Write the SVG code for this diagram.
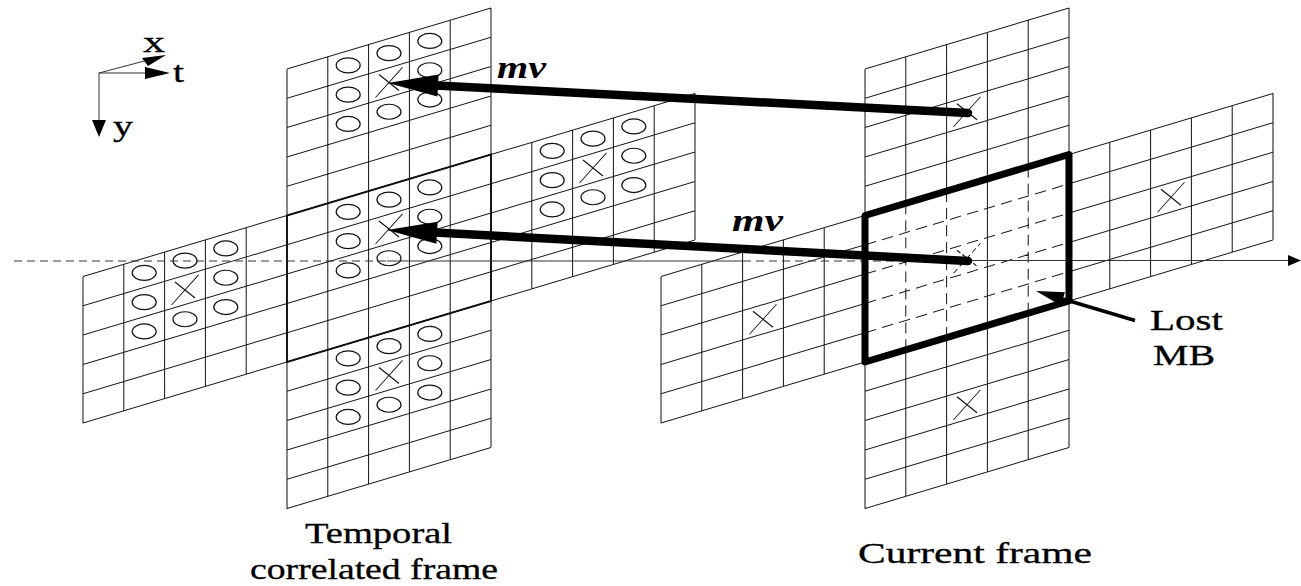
<svg xmlns="http://www.w3.org/2000/svg" xmlns:xlink="http://www.w3.org/1999/xlink" width="1301" height="586" viewBox="0 0 1301 586">
<style>
.grid{fill:none;stroke:#111;stroke-width:1}
.dgrid{fill:none;stroke:#111;stroke-width:1;stroke-dasharray:11 6}
.ring{fill:none;stroke:#111;stroke-width:1.2}
.cross{fill:none;stroke:#111;stroke-width:1}
.dcross{fill:none;stroke:#111;stroke-width:1;stroke-dasharray:5 3}
.rim{fill:none;stroke:#111;stroke-width:1.8}
.axis{fill:none;stroke:#333;stroke-width:1}
.axisd{fill:none;stroke:#333;stroke-width:1;stroke-dasharray:8 5}
.heavy{fill:none;stroke:#000;stroke-width:8.5;stroke-linecap:round}
.lost{fill:none;stroke:#000;stroke-width:7;stroke-linejoin:round}
.head{fill:#000;stroke:none}
.lbl{font-family:"Liberation Serif","Times New Roman",serif;font-size:30px;fill:#000;stroke:#000;stroke-width:0.3}
.mv{font-family:"Liberation Serif","Times New Roman",serif;font-size:31px;font-weight:bold;font-style:italic;fill:#000}
</style>
<defs>
  <!-- 5 x 5 macroblock grid in unskewed local coordinates -->
  <path id="grid" d="M0 0H204M0 29.3H204M0 58.6H204M0 87.9H204M0 117.2H204M0 146.5H204M0 0V146.5M40.8 0V146.5M81.6 0V146.5M122.4 0V146.5M163.2 0V146.5M204 0V146.5"/>
  <!-- marker of the block position -->
  <path id="cross" d="M-10 -11L10 11M-13.5 11L13.5 -11"/>
  <!-- eight neighbour candidates around the centre cell (screen aligned) -->
  <g id="rings">
    <ellipse cx="61.2" cy="-3.65" rx="12" ry="7.5"/>
    <ellipse cx="61.2" cy="25.65" rx="12" ry="7.5"/>
    <ellipse cx="61.2" cy="54.95" rx="12" ry="7.5"/>
    <ellipse cx="102" cy="-15.85" rx="12" ry="7.5"/>
    <ellipse cx="102" cy="42.75" rx="12" ry="7.5"/>
    <ellipse cx="142.8" cy="-28.05" rx="12" ry="7.5"/>
    <ellipse cx="142.8" cy="1.25" rx="12" ry="7.5"/>
    <ellipse cx="142.8" cy="30.55" rx="12" ry="7.5"/>
  </g>
</defs>

<!-- coordinate axes legend -->
<g id="legend">
  <path class="axis" d="M99 73H150M99 73L150 59.5M99 73V122" stroke="#000"/>
  <polygon class="head" points="145,67 170,73 145,79"/>
  <polygon class="head" points="142,58 166,55 148,66"/>
  <polygon class="head" points="92,120 99,137 106,120"/>
  <text class="lbl" x="143" y="52" textLength="22" lengthAdjust="spacingAndGlyphs">x</text>
  <text class="lbl" x="173" y="82" textLength="11" lengthAdjust="spacingAndGlyphs">t</text>
  <text class="lbl" x="113" y="136" textLength="20" lengthAdjust="spacingAndGlyphs">y</text>
</g>

<!-- temporal correlated frame -->
<g id="temporal-frame">
  <g id="t-top">
    <g transform="matrix(1 -0.299 0 1 287 69)"><use xlink:href="#grid" class="grid"/><use xlink:href="#cross" class="cross" x="102" y="43.95"/></g>
    <use xlink:href="#rings" class="ring" x="287" y="69"/>
  </g>
  <g id="t-center">
    <g transform="matrix(1 -0.299 0 1 287 215.5)"><use xlink:href="#grid" class="grid"/><use xlink:href="#cross" class="cross" x="102" y="43.95"/><rect class="rim" x="0" y="0" width="204" height="146.5"/></g>
    <use xlink:href="#rings" class="ring" x="287" y="215.5"/>
  </g>
  <g id="t-bottom">
    <g transform="matrix(1 -0.299 0 1 287 362)"><use xlink:href="#grid" class="grid"/><use xlink:href="#cross" class="cross" x="102" y="43.95"/></g>
    <use xlink:href="#rings" class="ring" x="287" y="362"/>
  </g>
  <g id="t-left">
    <g transform="matrix(1 -0.299 0 1 83 276.5)"><use xlink:href="#grid" class="grid"/><use xlink:href="#cross" class="cross" x="102" y="43.95"/></g>
    <use xlink:href="#rings" class="ring" x="83" y="276.5"/>
  </g>
  <g id="t-right">
    <g transform="matrix(1 -0.299 0 1 491 154.5)"><use xlink:href="#grid" class="grid"/><use xlink:href="#cross" class="cross" x="102" y="43.95"/></g>
    <use xlink:href="#rings" class="ring" x="491" y="154.5"/>
  </g>
</g>

<!-- current frame -->
<g id="current-frame">
  <g id="c-top" transform="matrix(1 -0.299 0 1 865 69)"><use xlink:href="#grid" class="grid"/><use xlink:href="#cross" class="cross" x="102" y="73.25"/></g>
  <g id="c-bottom" transform="matrix(1 -0.299 0 1 865 362)"><use xlink:href="#grid" class="grid"/><use xlink:href="#cross" class="cross" x="102" y="73.25"/></g>
  <g id="c-left" transform="matrix(1 -0.299 0 1 661 276.5)"><use xlink:href="#grid" class="grid"/><use xlink:href="#cross" class="cross" x="102" y="73.25"/></g>
  <g id="c-right" transform="matrix(1 -0.299 0 1 1069 154.5)"><use xlink:href="#grid" class="grid"/><use xlink:href="#cross" class="cross" x="102" y="73.25"/></g>
  <g id="lost-mb" transform="matrix(1 -0.299 0 1 865 215.5)">
    <path class="dgrid" d="M0 29.3H204M0 58.6H204M0 87.9H204M0 117.2H204M40.8 0V146.5M81.6 0V146.5M163.2 0V146.5"/>
    <path class="grid" d="M122.4 0V146.5"/>
    <use xlink:href="#cross" class="dcross" x="102" y="73.25"/>
  </g>
</g>

<!-- time axis and motion vectors -->
<g id="connectors">
  <path class="axisd" d="M14 261H387"/>
  <path class="axis" d="M387 261H743"/>
  <path class="axisd" d="M743 261H968"/>
  <path class="axis" d="M968 260.5H1292"/>
  <polygon class="head" points="1288,255 1301,260.5 1288,266"/>

  <g id="mv-top">
    <path class="heavy" d="M436 85.5L968 113"/>
    <polygon class="head" points="388,83 438.6,74.6 437.4,96.6"/>
  </g>
  <g id="mv-center">
    <path class="heavy" d="M435 232.5L968 261"/>
    <polygon class="head" points="387,230 437.6,221.7 436.4,243.7"/>
  </g>

  <polygon class="lost" points="865,215.5 1069,154.5 1069,301 865,362"/>

  <g id="lost-pointer">
    <path d="M1062 298.7L1135 320.5" fill="none" stroke="#000" stroke-width="3.5"/>
    <polygon class="head" points="1036,291 1064.9,292.2 1060.9,305.6"/>
  </g>
</g>

<!-- labels -->
<g id="labels">
  <text class="mv" x="497" y="78" textLength="49" lengthAdjust="spacingAndGlyphs">mv</text>
  <text class="mv" x="732" y="231" textLength="51" lengthAdjust="spacingAndGlyphs">mv</text>
  <text class="lbl" x="1150" y="330" textLength="73" lengthAdjust="spacingAndGlyphs">Lost</text>
  <text class="lbl" x="1153" y="365" textLength="62" lengthAdjust="spacingAndGlyphs">MB</text>
  <text class="lbl" x="305" y="543" textLength="147" lengthAdjust="spacingAndGlyphs">Temporal</text>
  <text class="lbl" x="250" y="579" textLength="248" lengthAdjust="spacingAndGlyphs">correlated frame</text>
  <text class="lbl" x="858" y="563" textLength="234" lengthAdjust="spacingAndGlyphs">Current frame</text>
</g>
</svg>
